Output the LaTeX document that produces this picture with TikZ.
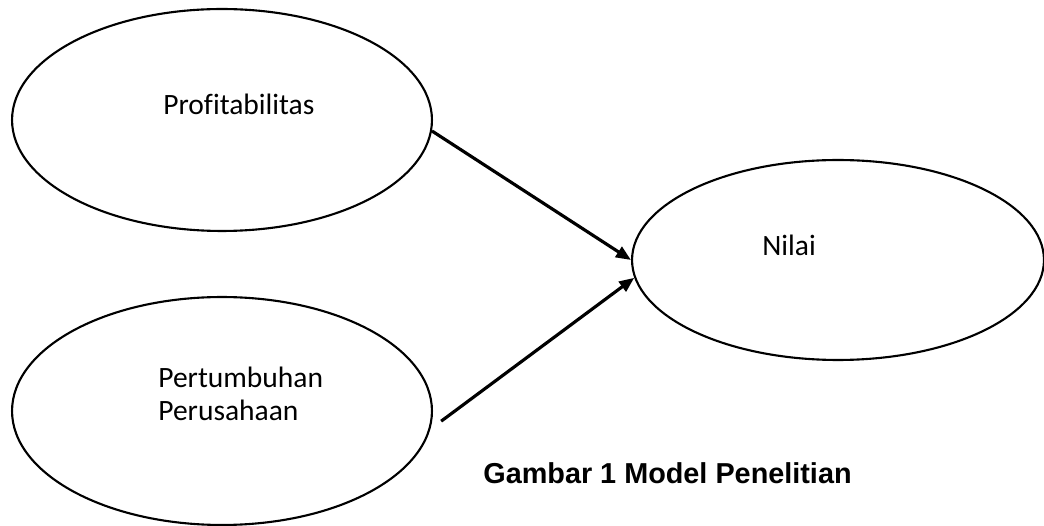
\documentclass[tikz,border=0pt]{standalone}
\usepackage{fontspec}
\setmainfont{Carlito}[Ligatures=CommonOff]
\newfontfamily\capfont{Liberation Sans}
\usetikzlibrary{shapes.geometric,arrows.meta}

\begin{document}
\begin{tikzpicture} [x=0.02cm,y=-0.02cm]
  % line widths of the shapes and the arrows
  \tikzset{var/.style={ellipse,draw,line width=1.2pt,inner sep=0pt}}
  \tikzset{arr/.style={line width=1.8pt,-{Triangle[length=0.3cm,width=0.24cm]}}}
  \tikzset{lbl/.style={inner sep=0pt,font=\fontsize{16.8}{18.7}\selectfont}}
  \useasboundingbox (0,0) rectangle (1044,526);

  % Draw the variables
  \node [var,minimum width=8.4cm,minimum height=4.44cm] (prof)  at (222,120) {};
  \node [var,minimum width=8.4cm,minimum height=4.56cm] (pert)  at (222,411) {};
  \node [var,minimum width=8.24cm,minimum height=4.0cm] (nilai) at (838,260) {};

  % texts in the variables
  \node [lbl,anchor=base west] (proftxt)  at (163,115) {Profitabilitas};
  \node [lbl,anchor=west,align=left] (perttxt) at (158,394) {Pertumbuhan\\Perusahaan};
  \node [lbl,anchor=base west] (nilaitxt) at (762,256) {Nilai};

  % paths into Nilai
  \draw [arr] (prof.-3) -- (nilai.west);
  \draw [arr,shorten <=0.27cm] (pert.-5) -- (nilai.185);

  % caption
  \node [inner sep=0pt,anchor=base west,font=\capfont\bfseries\fontsize{16.4}{18}\selectfont] (cap) at (483,483) {Gambar 1 Model Penelitian};
\end{tikzpicture}
\end{document}
